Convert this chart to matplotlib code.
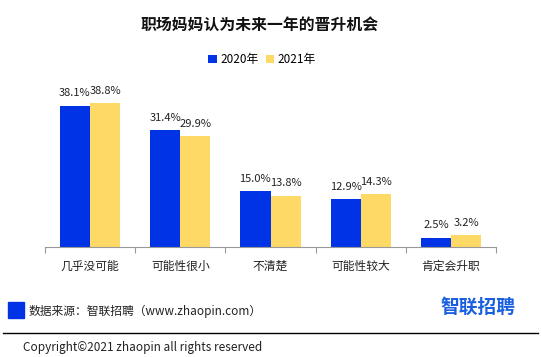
import numpy as np
import matplotlib
matplotlib.use("Agg")
import matplotlib.pyplot as plt
from matplotlib.patches import Rectangle

plt.rcParams['font.family'] = ['Noto Sans CJK SC', 'DejaVu Sans']

# dati
categorie = ["几乎没可能", "可能性很小", "不清楚", "可能性较大", "肯定会升职"]
anno_2020 = [38.1, 31.4, 15.0, 12.9, 2.5]
anno_2021 = [38.8, 29.9, 13.8, 14.3, 3.2]
serie = ["2020年", "2021年"]

BLU = "#0033e6"
GIALLO = "#ffd966"

fig = plt.figure(figsize=(5.41, 3.57), dpi=100)
ax = fig.add_axes([0.083, 0.308, 0.834, 0.468])

x = np.arange(len(categorie))
w = 0.335
b1 = ax.bar(x - w / 2, anno_2020, w, color=BLU, label=serie[0])
b2 = ax.bar(x + w / 2, anno_2021, w, color=GIALLO, label=serie[1])

for bars, vals in ((b1, anno_2020), (b2, anno_2021)):
    for r, v in zip(bars, vals):
        ax.text(r.get_x() + r.get_width() / 2, v + 2.0, f"{v:.1f}%",
                ha="center", va="bottom", fontsize=8, color="#222222")

ax.set_xlim(-0.5, len(categorie) - 0.5)
ax.set_ylim(0, 45)
for s in ("top", "right", "left"):
    ax.spines[s].set_visible(False)
ax.spines["bottom"].set_color("#999999")
ax.set_yticks([])
ax.set_xticks(np.arange(len(categorie) + 1) - 0.5)
ax.set_xticklabels([])
ax.tick_params(axis="x", length=4, color="#999999")
for i, c in enumerate(categorie):
    ax.text(i, -3.4, c, ha="center", va="top", fontsize=8.5, color="#222222")

fig.text(260 / 541, 0.93, "职场妈妈认为未来一年的晋升机会", ha="center", va="center",
         fontsize=11.4, fontweight="bold", color="#111111")

ax.legend(loc="center", bbox_to_anchor=(262 / 541, 0.832), bbox_transform=fig.transFigure,
          ncol=2, frameon=False, fontsize=8.5, handlelength=0.7, handleheight=0.7,
          handletextpad=0.3, columnspacing=0.6)

# piede di pagina
fig.patches.append(Rectangle((8 / 541, 1 - 318 / 357), 16 / 541, 16 / 357,
                             transform=fig.transFigure, color=BLU))
fig.text(29 / 541, 1 - 311 / 357, "数据来源：智联招聘（www.zhaopin.com）",
         ha="left", va="center", fontsize=8.5, color="#222222")
fig.text(515 / 541, 1 - 307 / 357, "智联招聘", ha="right", va="center",
         fontsize=13.5, fontweight="bold", color="#1a5fe0")
fig.add_artist(plt.Line2D([3 / 541, 538 / 541], [1 - 333 / 357] * 2,
                          transform=fig.transFigure, color="black", lw=1))
fig.text(23 / 541, 1 - 347 / 357, "Copyright©2021 zhaopin all rights reserved",
         ha="left", va="center", fontsize=8.5, color="#222222")

fig.savefig("out.png", dpi=100)
